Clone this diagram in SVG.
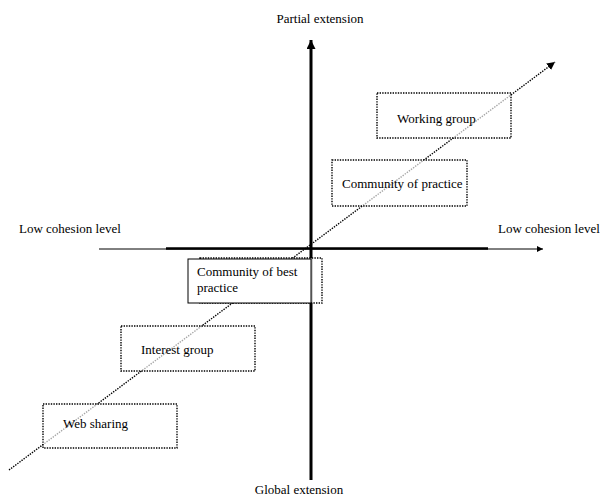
<svg xmlns="http://www.w3.org/2000/svg" width="603" height="499" viewBox="0 0 603 499">
<style>
text{font-family:"Liberation Serif","Times New Roman",serif;font-size:13px;fill:#000}
.dot{fill:#fff;fill-opacity:0.65;stroke:#000;stroke-width:1.4;stroke-dasharray:1.4 1.2}
.solid{fill:#fff;stroke:#000;stroke-width:1}
</style>
<defs>
<marker id="ah" viewBox="0 0 10 10" refX="10" refY="5" markerWidth="8" markerHeight="8" markerUnits="userSpaceOnUse" orient="auto"><path d="M0,0 L10,5 L0,10 Z" fill="#000"/></marker>
<marker id="ahs" viewBox="0 0 10 10" refX="10" refY="5" markerWidth="10" markerHeight="6" markerUnits="userSpaceOnUse" orient="auto"><path d="M0,0 L10,5 L0,10 Z" fill="#000"/></marker>
<marker id="ahv" viewBox="0 0 10 10" refX="10" refY="5" markerWidth="11" markerHeight="9" markerUnits="userSpaceOnUse" orient="auto"><path d="M0,0 L10,5 L0,10 Z" fill="#000"/></marker>
</defs>
<g id="connectors">
<line x1="99" y1="249" x2="543" y2="249" stroke="#000" stroke-width="1" marker-end="url(#ahs)"/>
<line x1="166" y1="248.5" x2="488" y2="248.5" stroke="#000" stroke-width="2.5"/>
<line x1="311" y1="480" x2="311" y2="40" stroke="#000" stroke-width="3" marker-end="url(#ahv)"/>
<line x1="9" y1="470" x2="555" y2="62" stroke="#000" stroke-width="1.4" stroke-dasharray="1.4 1.2" marker-end="url(#ah)"/>
</g>
<g id="axis-labels">
<text x="320" y="23" text-anchor="middle">Partial extension</text>
<text x="299" y="494" text-anchor="middle">Global extension</text>
<text x="19" y="233">Low cohesion level</text>
<text x="498" y="233">Low cohesion level</text>
</g>
<g id="working-group">
<rect class="dot" x="377" y="93" width="134" height="45"/>
<text x="397" y="123">Working group</text>
</g>
<g id="community-of-practice">
<rect class="dot" x="332" y="160" width="135" height="46"/>
<text x="342" y="188">Community of practice</text>
</g>
<g id="community-of-best-practice">
<rect class="dot" x="200" y="258" width="122" height="45"/>
<rect class="solid" x="188" y="259" width="123" height="44"/>
<text x="197" y="276">Community of best</text>
<text x="197" y="292">practice</text>
</g>
<g id="interest-group">
<rect class="dot" x="121" y="326" width="134" height="45"/>
<text x="141" y="354">Interest group</text>
</g>
<g id="web-sharing">
<rect class="dot" x="43" y="404" width="134" height="44"/>
<text x="63" y="428">Web sharing</text>
</g>
</svg>
